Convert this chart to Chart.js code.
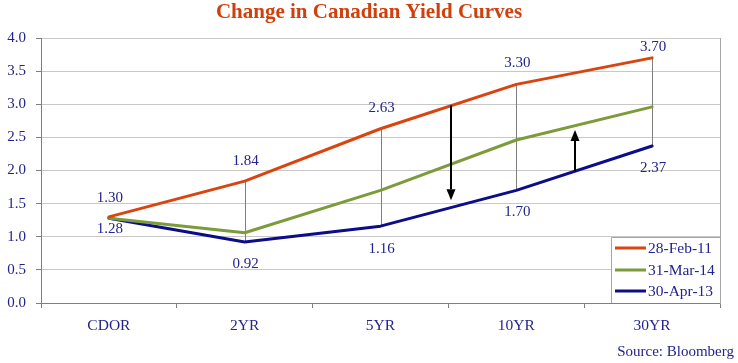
<!DOCTYPE html>
<html>
<head>
<meta charset="utf-8">
<script src="https://cdn.jsdelivr.net/npm/chart.js@4.4.1/dist/chart.umd.min.js"></script>
<style>
html,body{margin:0;padding:0;background:#fff;}
#wrap{width:738px;height:363px;}
</style>
</head>
<body>
<div id="wrap"><canvas id="c" width="738" height="363"></canvas></div>
<script>
// ---- data ----
const categories = ['CDOR', '2YR', '5YR', '10YR', '30YR'];
const seriesNames = ['28-Feb-11', '31-Mar-14', '30-Apr-13'];
const feb11 = [1.30, 1.84, 2.63, 3.30, 3.70];
const mar14 = [1.28, 1.06, 1.70, 2.46, 2.96];
const apr13 = [1.28, 0.92, 1.16, 1.70, 2.37];
const yTicks = [0, 0.5, 1.0, 1.5, 2.0, 2.5, 3.0, 3.5, 4.0];
// arrows (category index position, start value, end value)
const arrowX = [2.52, 3.43];
const arrowFrom = [2.98, 1.99];
const arrowTo = [1.55, 2.61];

// ---- style ----
const FONT = "'Liberation Serif', 'Times New Roman', serif";
const TXT = '#23238C';
const COLORS = ['#D9440F', '#7D9B3B', '#0D0D8A'];
const labelOffTop = [-19, -20, -21, -21, -11];
const labelOffBot = [11, 22, 23, 22, 22];

const extras = {
  id: 'extras',
  beforeDatasetsDraw(chart) {
    const ctx = chart.ctx, x = chart.scales.x, y = chart.scales.y;
    ctx.save();
    ctx.strokeStyle = '#7F7F7F';
    ctx.lineWidth = 1;
    for (let i = 0; i < categories.length; i++) {
      const px = Math.round(x.getPixelForValue(i)) + 0.5;
      ctx.beginPath();
      ctx.moveTo(px, y.getPixelForValue(feb11[i]));
      ctx.lineTo(px, y.getPixelForValue(apr13[i]));
      ctx.stroke();
    }
    ctx.restore();
  },
  afterDatasetsDraw(chart) {
    const ctx = chart.ctx, x = chart.scales.x, y = chart.scales.y;
    ctx.save();
    // arrows
    ctx.strokeStyle = '#000'; ctx.fillStyle = '#000'; ctx.lineWidth = 2;
    for (let i = 0; i < arrowX.length; i++) {
      const px = Math.round(x.getPixelForValue(arrowX[i]));
      const y0 = y.getPixelForValue(arrowFrom[i]);
      const y1 = y.getPixelForValue(arrowTo[i]);
      const dir = y1 > y0 ? 1 : -1;
      const head = 11, hw = 4.5;
      ctx.beginPath();
      ctx.moveTo(px, y0);
      ctx.lineTo(px, y1 - dir * head);
      ctx.stroke();
      ctx.beginPath();
      ctx.moveTo(px, y1);
      ctx.lineTo(px - hw, y1 - dir * head);
      ctx.lineTo(px + hw, y1 - dir * head);
      ctx.closePath();
      ctx.fill();
    }
    // data labels
    ctx.font = '15px ' + FONT;
    ctx.fillStyle = TXT;
    ctx.textAlign = 'center';
    ctx.textBaseline = 'middle';
    for (let i = 0; i < categories.length; i++) {
      const px = x.getPixelForValue(i) + 1;
      ctx.fillText(feb11[i].toFixed(2), px, y.getPixelForValue(feb11[i]) + labelOffTop[i]);
      ctx.fillText(apr13[i].toFixed(2), px, y.getPixelForValue(apr13[i]) + labelOffBot[i]);
    }
    ctx.restore();
  },
  afterDraw(chart) {
    const ctx = chart.ctx, a = chart.chartArea;
    ctx.save();
    // legend box
    const lx = 611.5, ly = 237.5;
    ctx.fillStyle = '#fff';
    ctx.fillRect(lx, ly, a.right - lx, a.bottom - ly);
    ctx.strokeStyle = '#A6A6A6';
    ctx.lineWidth = 1;
    ctx.beginPath();
    ctx.moveTo(lx, a.bottom);
    ctx.lineTo(lx, ly);
    ctx.lineTo(a.right, ly);
    ctx.stroke();
    const rows = [248, 270, 291];
    ctx.font = '15.5px ' + FONT;
    ctx.textAlign = 'left';
    ctx.textBaseline = 'middle';
    chart.data.datasets.forEach((ds, i) => {
      ctx.strokeStyle = ds.borderColor;
      ctx.lineWidth = 3;
      ctx.beginPath();
      ctx.moveTo(615, rows[i]);
      ctx.lineTo(646, rows[i]);
      ctx.stroke();
      ctx.fillStyle = TXT;
      ctx.fillText(ds.label, 648, rows[i] + 1);
    });
    // source
    ctx.font = '15px ' + FONT;
    ctx.textAlign = 'right';
    ctx.fillText('Source: Bloomberg', 734, 352);
    ctx.restore();
  }
};

new Chart(document.getElementById('c'), {
  type: 'line',
  data: {
    labels: categories,
    datasets: [
      { label: seriesNames[0], data: feb11, borderColor: COLORS[0], backgroundColor: COLORS[0] },
      { label: seriesNames[1], data: mar14, borderColor: COLORS[1], backgroundColor: COLORS[1] },
      { label: seriesNames[2], data: apr13, borderColor: COLORS[2], backgroundColor: COLORS[2] }
    ]
  },
  options: {
    responsive: false,
    animation: false,
    devicePixelRatio: 1,
    layout: { padding: 0 },
    elements: {
      line: { borderWidth: 3, tension: 0, borderCapStyle: 'round', borderJoinStyle: 'round' },
      point: { radius: 0, hoverRadius: 0 }
    },
    plugins: {
      legend: { display: false },
      tooltip: { enabled: false },
      title: {
        display: true,
        text: 'Change in Canadian Yield Curves',
        color: '#D0400C',
        font: { family: FONT, size: 21, weight: 'bold', lineHeight: 1.2 },
        padding: { top: 0, bottom: 12.8 }
      }
    },
    scales: {
      x: {
        offset: true,
        grid: { offset: true, drawOnChartArea: false, drawTicks: true, tickLength: 5, tickColor: '#7F7F7F', color: '#7F7F7F' },
        border: { color: '#7F7F7F' },
        ticks: { color: TXT, font: { family: FONT, size: 15.5 }, padding: 9, maxRotation: 0 },
        afterFit(s) { s.height = 60; }
      },
      y: {
        min: 0, max: 4,
        afterBuildTicks(s) { s.ticks = yTicks.map(v => ({ value: v })); },
        grid: { color: '#C8C8C8', tickLength: 5, tickColor: '#7F7F7F' },
        border: { color: '#7F7F7F' },
        ticks: { color: TXT, font: { family: FONT, size: 15 }, padding: 10, callback: v => Number(v).toFixed(1) },
        afterFit(s) { s.width = 41; }
      },
      yr: {
        position: 'right',
        min: 0, max: 4,
        grid: { drawOnChartArea: false, drawTicks: false, tickLength: 0 },
        border: { color: '#A6A6A6' },
        ticks: { display: false },
        afterFit(s) { s.width = 18; }
      }
    }
  },
  plugins: [extras]
});
</script>
</body>
</html>
